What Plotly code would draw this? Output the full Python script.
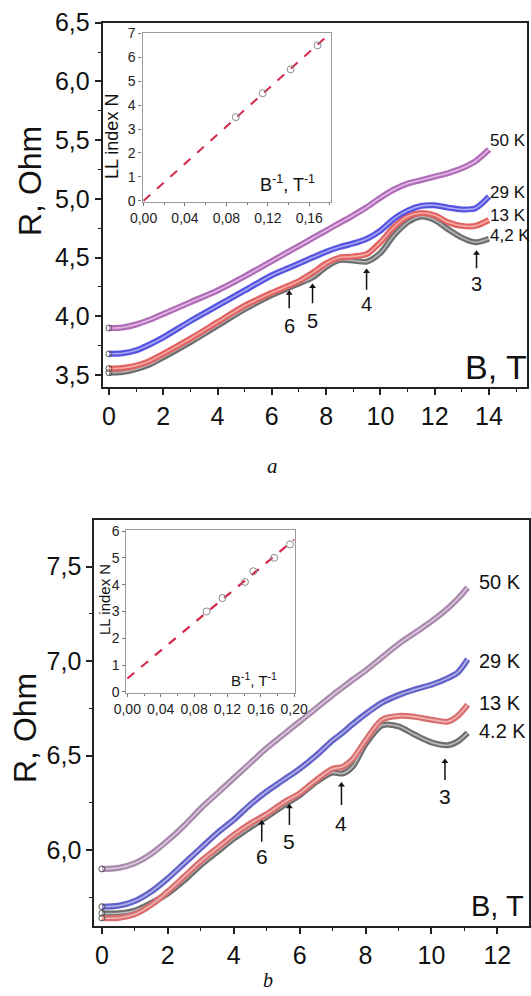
import plotly.graph_objects as go

# ---------------- data: panel a ----------------
B_a = [0, 0.5, 1, 1.5, 2, 3, 4, 5, 6, 6.5, 7, 7.5, 8, 8.5, 9, 9.5, 10, 10.5, 11, 11.5, 12, 12.5, 13, 13.5, 14]
R_a_50K = [3.90, 3.905, 3.93, 3.97, 4.02, 4.12, 4.22, 4.34, 4.47, 4.535, 4.60, 4.665, 4.73, 4.795, 4.86, 4.93, 5.01, 5.08, 5.13, 5.16, 5.19, 5.22, 5.26, 5.32, 5.42]
R_a_29K = [3.68, 3.685, 3.71, 3.76, 3.82, 3.96, 4.09, 4.22, 4.35, 4.40, 4.45, 4.50, 4.55, 4.59, 4.62, 4.66, 4.73, 4.83, 4.90, 4.94, 4.945, 4.925, 4.91, 4.92, 5.02]
R_a_13K = [3.555, 3.56, 3.58, 3.62, 3.68, 3.81, 3.95, 4.09, 4.20, 4.25, 4.30, 4.37, 4.45, 4.50, 4.51, 4.53, 4.63, 4.76, 4.85, 4.88, 4.86, 4.80, 4.77, 4.77, 4.82]
R_a_4K = [3.52, 3.525, 3.55, 3.59, 3.65, 3.78, 3.92, 4.06, 4.18, 4.23, 4.28, 4.33, 4.42, 4.48, 4.475, 4.465, 4.54, 4.69, 4.80, 4.85, 4.82, 4.74, 4.67, 4.63, 4.66]

# inset a
inv_a_fit = [0.0, 0.18]
N_a_fit = [0.0, 7.0]
inv_a_pts = [0.089, 0.115, 0.142, 0.168]
N_a_pts = [3.5, 4.5, 5.5, 6.5]

# ---------------- data: panel b ----------------
B_b = [0, 0.5, 1, 1.5, 2, 2.5, 3, 3.5, 4, 4.5, 5, 5.5, 6, 6.5, 7, 7.3, 7.6, 8, 8.5, 9, 9.5, 10, 10.5, 10.8, 11.1]
R_b_50K = [5.90, 5.905, 5.93, 5.98, 6.05, 6.13, 6.22, 6.30, 6.38, 6.46, 6.54, 6.61, 6.68, 6.75, 6.82, 6.86, 6.90, 6.95, 7.02, 7.09, 7.15, 7.21, 7.28, 7.33, 7.39]
R_b_29K = [5.70, 5.705, 5.73, 5.78, 5.85, 5.93, 6.01, 6.09, 6.16, 6.24, 6.31, 6.37, 6.43, 6.50, 6.58, 6.62, 6.665, 6.72, 6.78, 6.82, 6.85, 6.875, 6.91, 6.94, 7.01]
R_b_13K = [5.64, 5.64, 5.66, 5.71, 5.78, 5.86, 5.94, 6.01, 6.08, 6.14, 6.19, 6.25, 6.30, 6.37, 6.43, 6.44, 6.48, 6.58, 6.69, 6.71, 6.705, 6.69, 6.68, 6.71, 6.77]
R_b_4K = [5.665, 5.665, 5.68, 5.72, 5.77, 5.84, 5.92, 5.99, 6.06, 6.12, 6.175, 6.235, 6.29, 6.36, 6.41, 6.405, 6.44, 6.56, 6.66, 6.655, 6.61, 6.57, 6.555, 6.575, 6.62]

# inset b
inv_b_fit = [0.0, 0.20]
N_b_fit = [0.5, 5.68]
inv_b_pts = [0.095, 0.114, 0.141, 0.151, 0.176, 0.195]
N_b_pts = [3.0, 3.5, 4.1, 4.5, 5.0, 5.5]

# temperatures & LL markers
temps_a = ["50 K", "29 K", "13 K", "4,2 K"]
temps_b = ["50 K", "29 K", "13 K", "4.2 K"]
label_y_a = [5.50, 5.05, 4.86, 4.69]
label_y_b = [7.42, 7.00, 6.78, 6.63]
ll_num = ["6", "5", "4", "3"]
ll_B_a = [6.64, 7.50, 9.49, 13.54]
ll_tip_a = [4.197, 4.253, 4.381, 4.537]
ll_tail_a = [4.069, 4.111, 4.225, 4.41]
ll_lab_a = [3.92, 3.963, 4.105, 4.276]
ll_B_b = [4.85, 5.69, 7.27, 10.41]
ll_tip_b = [6.143, 6.229, 6.344, 6.469]
ll_tail_b = [6.044, 6.133, 6.238, 6.371]
ll_lab_b = [5.965, 6.044, 6.142, 6.281]

# ticks (start, step)
xt_a = [0, 2, 4, 6, 8, 10, 12, 14]
yt_a = [3.5, 4.0, 4.5, 5.0, 5.5, 6.0, 6.5]
xt_b = [0, 2, 4, 6, 8, 10, 12]
yt_b = [6.0, 6.5, 7.0, 7.5]
xt_ia = [0, 0.04, 0.08, 0.12, 0.16]
yt_ia = [0, 1, 2, 3, 4, 5, 6, 7]
xt_ib = [0, 0.04, 0.08, 0.12, 0.16, 0.20]
yt_ib = [0, 1, 2, 3, 4, 5, 6]

FONT = "Liberation Sans, Arial, sans-serif"
SERIF = "Liberation Serif, Times New Roman, serif"

fig = go.Figure()

styles_a = [("#b06cb8", "#e4bce4"), ("#5454e0", "#a8a8f6"), ("#e06262", "#f6aca6"), ("#6e6e6e", "#b4b4b4")]
styles_b = [("#a88aaa", "#dccce0"), ("#6262c8", "#b4b4ea"), ("#d86e6e", "#f2b4b4"), ("#6e6e6e", "#bcbcbc")]

series_a = [R_a_50K, R_a_29K, R_a_13K, R_a_4K]
series_b = [R_b_50K, R_b_29K, R_b_13K, R_b_4K]

for idx in [3, 2, 1, 0]:
    for (Bx, ser, sty, xa, ya) in [(B_a, series_a, styles_a, "x", "y"), (B_b, series_b, styles_b, "x3", "y3")]:
        oc, ic = sty[idx]
        fig.add_trace(go.Scatter(x=Bx, y=ser[idx], mode="lines", xaxis=xa, yaxis=ya,
                                 line=dict(color=oc, width=6, shape="spline", smoothing=0.8), showlegend=False))
        fig.add_trace(go.Scatter(x=Bx, y=ser[idx], mode="lines", xaxis=xa, yaxis=ya,
                                 line=dict(color=ic, width=1.6, shape="spline", smoothing=0.8), showlegend=False))
        fig.add_trace(go.Scatter(x=Bx[:1], y=ser[idx][:1], mode="markers", xaxis=xa, yaxis=ya,
                                 marker=dict(symbol="circle-open", size=6, color="#555", line=dict(width=1)),
                                 showlegend=False))

annotations = []

# LL arrows (shaft + head) and numbers
for Bs, tips, tails, labs, xa, ya, fs in [(ll_B_a, ll_tip_a, ll_tail_a, ll_lab_a, "x", "y", 20),
                                          (ll_B_b, ll_tip_b, ll_tail_b, ll_lab_b, "x3", "y3", 21)]:
    xs, ys = [], []
    for b, tp, tl in zip(Bs, tips, tails):
        xs += [b, b, None]
        ys += [tl, tp, None]
    fig.add_trace(go.Scatter(x=xs, y=ys, mode="lines", xaxis=xa, yaxis=ya,
                             line=dict(color="#111", width=1.5), showlegend=False))
    fig.add_trace(go.Scatter(x=Bs, y=tips, mode="markers", xaxis=xa, yaxis=ya,
                             marker=dict(symbol="triangle-up", size=6, color="#111"), showlegend=False))
    for n, b, lab in zip(ll_num, Bs, labs):
        annotations.append(dict(x=b, y=lab, xref=xa, yref=ya, text=n, showarrow=False,
                                xanchor="center", yanchor="middle",
                                font=dict(family=FONT, size=fs, color="#111")))

# insets
fig.add_trace(go.Scatter(x=inv_a_fit, y=N_a_fit, mode="lines", xaxis="x2", yaxis="y2",
                         line=dict(color="#d22a4a", width=2, dash="dash"), showlegend=False))
fig.add_trace(go.Scatter(x=inv_a_pts, y=N_a_pts, mode="markers", xaxis="x2", yaxis="y2",
                         marker=dict(symbol="circle-open", size=7, color="#8a8a8a", line=dict(width=1)), showlegend=False))
fig.add_trace(go.Scatter(x=inv_b_fit, y=N_b_fit, mode="lines", xaxis="x4", yaxis="y4",
                         line=dict(color="#d22a4a", width=2.2, dash="dash"), showlegend=False))
fig.add_trace(go.Scatter(x=inv_b_pts, y=N_b_pts, mode="markers", xaxis="x4", yaxis="y4",
                         marker=dict(symbol="circle-open", size=7, color="#8a8a8a", line=dict(width=1)), showlegend=False))


def main_axis(ticks, fmt, minor_step, size=25):
    return dict(showline=True, linecolor="#222", linewidth=2, mirror=True, showgrid=False, zeroline=False,
                ticks="outside", ticklen=6, tickwidth=1.5, tickcolor="#222", automargin=False,
                tickmode="linear", tick0=ticks[0], dtick=ticks[1] - ticks[0], tickformat=fmt,
                tickfont=dict(family=FONT, size=size, color="#111"),
                minor=dict(dtick=minor_step, tick0=ticks[0], ticklen=3, ticks="outside", tickcolor="#222",
                           tickwidth=1.2, showgrid=False))


def inset_axis(ticks, fmt, minor_step=None):
    d = dict(showline=True, linecolor="#9a9a9a", linewidth=1.2, mirror=True, showgrid=False, zeroline=False,
             ticks="outside", ticklen=3, tickwidth=1, tickcolor="#777", automargin=False,
             tickmode="linear", tick0=ticks[0], dtick=ticks[1] - ticks[0], tickformat=fmt,
             tickfont=dict(family=FONT, size=14, color="#222"))
    if minor_step:
        d["minor"] = dict(dtick=minor_step, tick0=ticks[0], ticklen=2, ticks="outside", tickcolor="#777",
                          showgrid=False)
    return d


for t, y in zip(temps_a, label_y_a):
    annotations.append(dict(x=13.98, y=y, xref="x", yref="y", text=t, showarrow=False, xanchor="left",
                            yanchor="middle", font=dict(family=FONT, size=17, color="#111")))
for t, y in zip(temps_b, label_y_b):
    annotations.append(dict(x=11.37, y=y, xref="x3", yref="y3", text=t, showarrow=False, xanchor="left",
                            yanchor="middle", font=dict(family=FONT, size=20, color="#111")))


def ptext(x, y, text, size, angle=0, family=FONT):
    return dict(x=x, y=y, xref="paper", yref="paper", text=text, textangle=angle, showarrow=False,
                xanchor="center", yanchor="middle", font=dict(family=family, size=size, color="#111"))


annotations += [
    ptext(30 / 531, 1 - 181 / 996, "R, Ohm", 32, -90),
    ptext(496 / 531, 1 - 367 / 996, "B, T", 34),
    ptext(25 / 531, 1 - 728 / 996, "R, Ohm", 32, -90),
    ptext(497 / 531, 1 - 906 / 996, "B, T", 29),
    ptext(112 / 531, 1 - 137 / 996, "LL index N", 18, -90),
    ptext(287 / 531, 1 - 184 / 996, "B<sup>-1</sup>, T<sup>-1</sup>", 18),
    ptext(104 / 531, 1 - 600 / 996, "LL index N", 15, -90),
    ptext(254 / 531, 1 - 679 / 996, "B<sup>-1</sup>, T<sup>-1</sup>", 15),
    ptext(272 / 531, 1 - 466 / 996, "<i>a</i>", 21, family=SERIF),
    ptext(268 / 531, 1 - 980 / 996, "<i>b</i>", 20, family=SERIF),
]

fig.update_layout(
    width=531, height=996, margin=dict(l=0, r=0, t=0, b=0, pad=0), autosize=False,
    paper_bgcolor="white", plot_bgcolor="white", showlegend=False, separators=", ",
    font=dict(family=FONT, color="#111"),
    xaxis=dict(domain=[0.1934, 0.9925], anchor="y", range=[-0.23, 15.4], **main_axis(xt_a, "d", 1)),
    yaxis=dict(domain=[0.6117, 0.9772], anchor="x", range=[3.40, 6.5], **main_axis(yt_a, ".1f", 0.25)),
    xaxis2=dict(domain=[0.2684, 0.6234], anchor="y2", range=[-0.001, 0.181], **inset_axis(xt_ia, ".2f", 0.02)),
    yaxis2=dict(domain=[0.7972, 0.9669], anchor="x2", range=[-0.05, 7.02], **inset_axis(yt_ia, "d")),
    xaxis3=dict(domain=[0.1776, 0.9962], anchor="y3", range=[-0.23, 12.96], **main_axis(xt_b, "d", 1)),
    yaxis3=dict(domain=[0.0703, 0.4779], anchor="x3", range=[5.598, 7.747], **main_axis(yt_b, ".1f", 0.25)),
    xaxis4=dict(domain=[0.2382, 0.5556], anchor="y4", range=[-0.001, 0.201], **inset_axis(xt_ib, ".2f", 0.02)),
    yaxis4=dict(domain=[0.3045, 0.4674], anchor="x4", range=[-0.03, 6.02], **inset_axis(yt_ib, "d")),
    annotations=annotations,
)

fig.write_html("out.html")
